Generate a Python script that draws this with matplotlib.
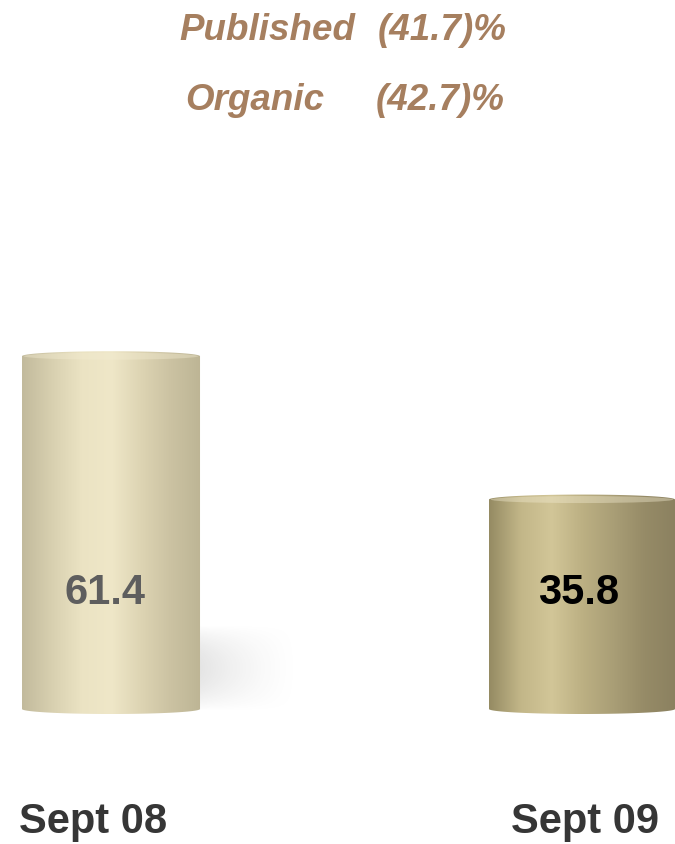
import numpy as np
import matplotlib.pyplot as plt
from matplotlib.colors import LinearSegmentedColormap
from matplotlib.patches import Polygon, Ellipse

plt.rcParams['font.family'] = ['Liberation Sans', 'DejaVu Sans']

periods = ['Sept 08', 'Sept 09']
values = [61.4, 35.8]
value_colors = ['#5e5e5e', '#000000']
notes = [('Published', '(41.7)%'), ('Organic', '(42.7)%')]

# left edge -> highlight -> right edge shading for each cylinder
shades = [
    ['#c2ba9c', '#d8d0b0', '#ebe3c3', '#efe7c8', '#ddd4b3', '#cbc2a2', '#bdb595'],
    ['#958b63', '#c2b688', '#d2c698', '#bcb083', '#a99e76', '#968b67', '#8b8160'],
]
widths = [0.378, 0.395]

base = -1.6        # axis floor the cylinders stand on
px_y = 5.6         # pixels per value unit
px_x = 471.0       # pixels per category unit
y_lo = base - 135 / px_y


def py(pix):
    # pixel row (from top) -> data y
    return y_lo + (845 - pix) / px_y


def px(pix):
    # pixel column -> data x
    return (pix - 111) / px_x


fig = plt.figure(figsize=(6.75, 8.45), dpi=100)
ax = fig.add_axes([0, 0, 1, 1])
ax.set_xlim(px(0), px(675))
ax.set_ylim(y_lo, y_lo + 845 / px_y)
ax.axis('off')

# soft floor shadow to the right of the first cylinder
gx = np.linspace(0, 1, 120)
gy = np.linspace(-1, 1, 100)
X, Y = np.meshgrid(gx, gy)
alpha = 0.26 * (1 - X) ** 1.5 * np.clip(1 - np.abs(Y) ** 2, 0, 1)
shadow = np.zeros((100, 120, 4))
shadow[..., :3] = 0.55
shadow[..., 3] = alpha
ax.imshow(shadow, aspect='auto', zorder=1, interpolation='bilinear',
          extent=(widths[0] / 2 - 0.02, widths[0] / 2 + 0.21, py(712), py(626)))

cap = 5.0 / px_y   # half height of the elliptical ends
t = np.linspace(0, np.pi, 60)

for i, (v, cols, w) in enumerate(zip(values, shades, widths)):
    x0, x1 = i - w / 2, i + w / 2

    xs = np.concatenate([i - w / 2 * np.cos(t), i + w / 2 * np.cos(t)])
    ys = np.concatenate([base - cap * np.sin(t), v + cap * np.sin(t)])
    outline = Polygon(np.column_stack([xs, ys]), closed=True, fc='none', lw=0)
    ax.add_patch(outline)

    cmap = LinearSegmentedColormap.from_list(f'cyl{i}', cols)
    grad = np.linspace(0, 1, 256)[None, :]
    img = ax.imshow(grad, cmap=cmap, aspect='auto', zorder=2,
                    extent=(x0, x1, base - cap, v + cap), interpolation='bicubic')
    img.set_clip_path(outline)

    # faint lighter rim along the top
    ax.add_patch(Ellipse((i, v), w * 0.98, cap * 1.4, fc='#f3ecd2',
                         alpha=0.4, lw=0, zorder=3))

# value labels inside the cylinders
label_x = [px(105), px(579)]
for i, (v, c) in enumerate(zip(values, value_colors)):
    ax.text(label_x[i], py(593), f'{v:.1f}', ha='center', va='center',
            fontsize=30, fontweight='bold', color=c, zorder=5)

# category labels under the cylinders
period_x = [px(93), px(585)]
for i, p in enumerate(periods):
    ax.text(period_x[i], py(822), p, ha='center', va='center',
            fontsize=30, fontweight='bold', color='#363636')

# change notes at the top
note_x = [(0.265, 0.560), (0.274, 0.557)]
for row, (name, pct) in enumerate(notes):
    ty = 1 - (30 + row * 71) / 845
    fig.text(note_x[row][0], ty, name, ha='left', va='center',
             fontsize=26.5, fontweight='bold', fontstyle='italic', color='#a67f5f')
    fig.text(note_x[row][1], ty, pct, ha='left', va='center',
             fontsize=26.5, fontweight='bold', fontstyle='italic', color='#a67f5f')

fig.savefig('out.png', dpi=100)
